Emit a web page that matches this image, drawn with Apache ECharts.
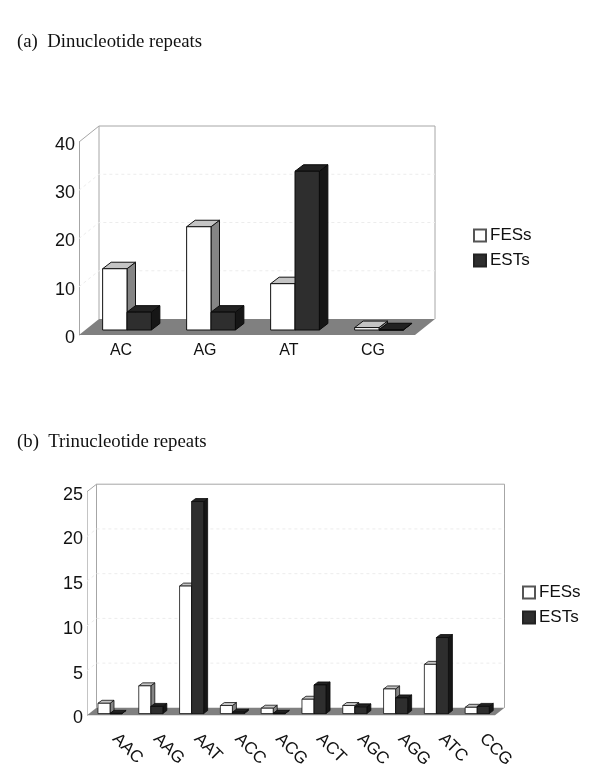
<!DOCTYPE html>
<html><head><meta charset="utf-8">
<style>html,body{margin:0;padding:0;background:#fff}#c{width:600px;height:771px}</style>
<script src="https://cdn.jsdelivr.net/npm/echarts@6/dist/echarts.min.js"></script>
</head><body><div id="c"></div>
<script>
const diCategories = ['AC','AG','AT','CG'];
const diFES = [12.7,21.4,9.6,0.5];
const diEST = [3.7,3.7,32.9,0.05];
const diTicks = [10,20,30];
const triCategories = ['AAC','AAG','AAT','ACC','ACG','ACT','AGC','AGG','ATC','CCG'];
const triFES = [1.15,3.1,14.25,0.9,0.6,1.6,0.9,2.75,5.5,0.7];
const triEST = [0.02,0.8,23.7,0.15,0.03,3.2,0.75,1.75,8.5,0.8];
const triTicks = [5,10,15,20];

const FONT = '"Liberation Sans", Arial, sans-serif';
const SERIF = '"Liberation Serif", "Times New Roman", serif';
const GRID = '#ececec', WALL = '#a6a6a6', FLOOR = '#808080';
const WHITE = {front:'#ffffff', side:'#858585', top:'#c4c4c4', stroke:'#111'};
const DARK  = {front:'#2e2e2e', side:'#161616', top:'#222222', stroke:'#0a0a0a'};

// Wall, floor and gridlines of the pseudo-3D chart box
function wallItem(depth, ticks){
  return function(params, api){
    const r = params.coordSys, [dx, dy] = depth, kids = [];
    const L = r.x, R = r.x + r.width, T = r.y, B = r.y + r.height;
    kids.push({type:'polygon', shape:{points:[[L,B],[R,B],[R+dx,B-dy],[L+dx,B-dy]]}, style:{fill:FLOOR}});
    const ln = (a,b,c)=>kids.push({type:'line', shape:{x1:a[0],y1:a[1],x2:b[0],y2:b[1]}, style:{stroke:c||WALL,lineWidth:1}});
    ln([L+dx,T-dy],[R+dx,T-dy]); ln([R+dx,T-dy],[R+dx,B-dy]); ln([L+dx,T-dy],[L+dx,B-dy]); ln([L,T],[L+dx,T-dy]);
    ticks.forEach(t=>{
      const y = api.coord([0,t])[1];
      kids.push({type:'polyline', shape:{points:[[L,y],[L+dx,y-dy],[R+dx,y-dy]]}, style:{fill:'none',stroke:GRID,lineWidth:1,lineDash:[3,3]}});
    });
    return {type:'group', children:kids};
  };
}
// One 3D bar: side = 0 (left of band centre) or 1 (right)
function barItem(side, frac, shift, depth, pal, lw){
  return function(params, api){
    const i = api.value(0), v = api.value(1);
    const w = api.size([1,0])[0] * frac;
    const c0 = api.coord([i,0]), c1 = api.coord([i,v]);
    const x0 = c0[0] + shift[0] + (side-1)*w, x1 = x0 + w;
    const yb = c0[1] - shift[1], yt = c1[1] - shift[1];
    const [dx,dy] = depth;
    const st = f => ({fill:f, stroke:pal.stroke, lineWidth:lw, lineJoin:'round'});
    return {type:'group', children:[
      {type:'polygon', shape:{points:[[x1,yb],[x1+dx,yb-dy],[x1+dx,yt-dy],[x1,yt]]}, style:st(pal.side)},
      {type:'polygon', shape:{points:[[x0,yt],[x1,yt],[x1+dx,yt-dy],[x0+dx,yt-dy]]}, style:st(pal.top)},
      {type:'rect', shape:{x:x0,y:yt,width:w,height:Math.max(yb-yt,0.5)}, style:st(pal.front)}
    ]};
  };
}
const pts = a => a.map((v,i)=>[i,v]);
function wallSeries(idx, depth, ticks){
  return {type:'custom', name:'box'+idx, xAxisIndex:idx, yAxisIndex:idx, clip:false, silent:true, z:1,
    renderItem:wallItem(depth,ticks), encode:{x:0,y:1}, data:[[0,0]]};
}
function barSeries(idx, name, vals, side, frac, shift, depth, pal, lw){
  return {type:'custom', name, xAxisIndex:idx, yAxisIndex:idx, clip:false, z:2+side,
    itemStyle:{color:pal.front, borderColor:name==='FESs'?'#555':'#222', borderWidth:1},
    renderItem:barItem(side,frac,shift,depth,pal,lw), encode:{x:0,y:1}, data:pts(vals)};
}
const depthA=[20,16], depthB=[9.5,7.5];
const shiftA=[6,5], shiftB=[2.6,1.8];
const legendBase = {orient:'vertical', icon:'rect', itemWidth:12, itemHeight:12, itemGap:8,
  data:['FESs','ESTs'], textStyle:{fontFamily:FONT,fontSize:17,color:'#111',padding:[0,0,0,-1]}, selectedMode:false};

const chart = echarts.init(document.getElementById('c'));
chart.setOption({
  animation:false, backgroundColor:'#fff',
  title:[
    {text:'(a)  Dinucleotide repeats', left:17, top:33, padding:0, textStyle:{fontFamily:SERIF,fontSize:18.8,fontWeight:'normal',color:'#111'}},
    {text:'(b)  Trinucleotide repeats', left:17, top:433, padding:0, textStyle:{fontFamily:SERIF,fontSize:18.8,fontWeight:'normal',color:'#111'}}
  ],
  legend:[
    Object.assign({left:473, top:227, padding:0}, legendBase),
    Object.assign({left:522, top:584, padding:0}, legendBase)
  ],
  grid:[
    {left:79, top:142, width:336, height:193},
    {left:87, top:491.7, width:408, height:224}
  ],
  xAxis:[
    {type:'category', gridIndex:0, data:diCategories, axisLine:{show:false}, axisTick:{show:false}, splitLine:{show:false},
     axisLabel:{margin:8,fontFamily:FONT,fontSize:16,color:'#111',interval:0}},
    {type:'category', gridIndex:1, data:triCategories, axisLine:{show:false}, axisTick:{show:false}, splitLine:{show:false},
     axisLabel:{margin:13,rotate:-45,padding:[0,0,12,11],fontFamily:FONT,fontSize:17,color:'#111',interval:0}}
  ],
  yAxis:[
    {type:'value', gridIndex:0, min:0, max:40, interval:10, splitLine:{show:false}, axisTick:{show:false},
     axisLine:{show:true,lineStyle:{color:WALL,width:1}}, axisLabel:{margin:4,verticalAlign:'top',padding:[-6,0,0,0],fontFamily:FONT,fontSize:18,color:'#111'}},
    {type:'value', gridIndex:1, min:0, max:25, interval:5, splitLine:{show:false}, axisTick:{show:false},
     axisLine:{show:true,lineStyle:{color:'#c4c4c4',width:1}}, axisLabel:{margin:4,verticalAlign:'top',padding:[-6,0,0,0],fontFamily:FONT,fontSize:18,color:'#111'}}
  ],
  series:[
    wallSeries(0,depthA,diTicks),
    barSeries(0,'FESs',diFES,0,0.29,shiftA,[8.5,6.5],WHITE,1),
    barSeries(0,'ESTs',diEST,1,0.29,shiftA,[8.5,6.5],DARK,1),
    wallSeries(1,depthB,triTicks),
    barSeries(1,'FESs',triFES,0,0.295,shiftB,[4,3],WHITE,0.8),
    barSeries(1,'ESTs',triEST,1,0.295,shiftB,[4,3],DARK,0.8)
  ]
});
</script></body></html>
